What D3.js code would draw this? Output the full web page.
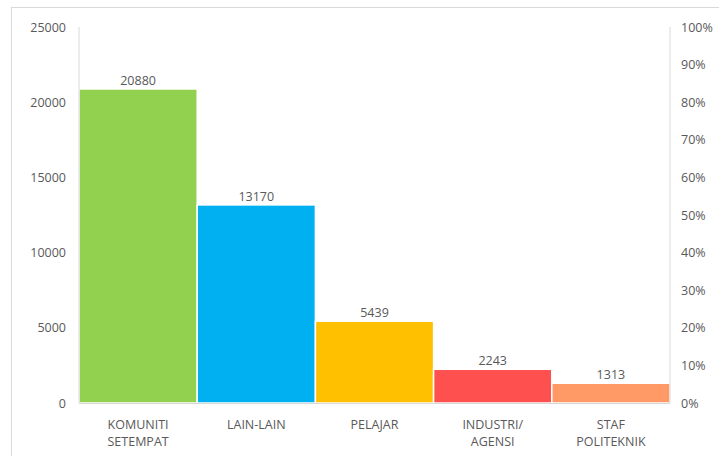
<!DOCTYPE html>
<html><head><meta charset="utf-8">
<script src="https://cdn.jsdelivr.net/npm/d3@7"></script>
<style>body{margin:0;background:#fff;}svg{display:block;font-family:"Open Sans",sans-serif;}</style>
</head><body>
<svg id="c" width="719" height="456"></svg>
<script>
const categories = [["KOMUNITI","SETEMPAT"],["LAIN-LAIN"],["PELAJAR"],["INDUSTRI/","AGENSI"],["STAF","POLITEKNIK"]];
const values = [20880, 13170, 5439, 2243, 1313];
const colors = ["#92D050", "#00B0F0", "#FFC000", "#FF5050", "#FF9966"];
const leftTicks = [0, 5000, 10000, 15000, 20000, 25000];
const rightTicks = [0, 0.1, 0.2, 0.3, 0.4, 0.5, 0.6, 0.7, 0.8, 0.9, 1.0];

const svg = d3.select("#c");
const L = 79, R = 670, T = 27, B = 403;
const x = d3.scaleBand().domain(d3.range(values.length)).range([L, R]).padding(0);
const y = d3.scaleLinear().domain([0, 25000]).range([B, T]);
const y2 = d3.scaleLinear().domain([0, 1]).range([B, T]);
const txt = "#595959";

// outer border
svg.append("rect").attr("x", 11.5).attr("y", 7.5).attr("width", 760).attr("height", 500)
  .attr("fill", "none").attr("stroke", "#d9d9d9");

// bars
svg.selectAll(".bar").data(values).join("rect")
  .attr("x", (d,i) => x(i)).attr("y", d => y(d))
  .attr("width", x.bandwidth()).attr("height", d => B - y(d))
  .attr("fill", (d,i) => colors[i]).attr("stroke", "#fff").attr("stroke-width", 1.5);

// axis lines
svg.append("line").attr("x1", L).attr("x2", L).attr("y1", T).attr("y2", B).attr("stroke", "#d9d9d9");
svg.append("line").attr("x1", R).attr("x2", R).attr("y1", T).attr("y2", B).attr("stroke", "#d9d9d9");
svg.append("line").attr("x1", L).attr("x2", R).attr("y1", B + 0.5).attr("y2", B + 0.5).attr("stroke", "#d9d9d9");

// left axis
const la = svg.append("g").attr("transform", `translate(${L},0)`)
  .call(d3.axisLeft(y).tickValues(leftTicks).tickSize(0).tickPadding(13).tickFormat(d3.format("d")));
la.select(".domain").remove();
la.selectAll("text").attr("fill", txt).style("font-size", "12.5px").style("font-family", '"Open Sans",sans-serif');

// right axis
const ra = svg.append("g").attr("transform", `translate(${R},0)`)
  .call(d3.axisRight(y2).tickValues(rightTicks).tickSize(0).tickPadding(11).tickFormat(d3.format(".0%")));
ra.select(".domain").remove();
ra.selectAll("text").attr("fill", txt).style("font-size", "12.5px").style("font-family", '"Open Sans",sans-serif');

// value labels
svg.selectAll(".vl").data(values).join("text")
  .attr("x", (d,i) => x(i) + x.bandwidth()/2).attr("y", d => y(d) - 4)
  .attr("text-anchor", "middle").attr("fill", txt).style("font-size", "12.5px")
  .text(d => d);

// category labels
const cg = svg.selectAll(".cl").data(categories).join("text")
  .attr("text-anchor", "middle").attr("fill", txt).style("font-size", "12.5px");
cg.each(function(lines, i) {
  d3.select(this).selectAll("tspan").data(lines).join("tspan")
    .attr("x", x(i) + x.bandwidth()/2).attr("y", (d,j) => 429 + j*17).text(d => d);
});
</script>
</body></html>
